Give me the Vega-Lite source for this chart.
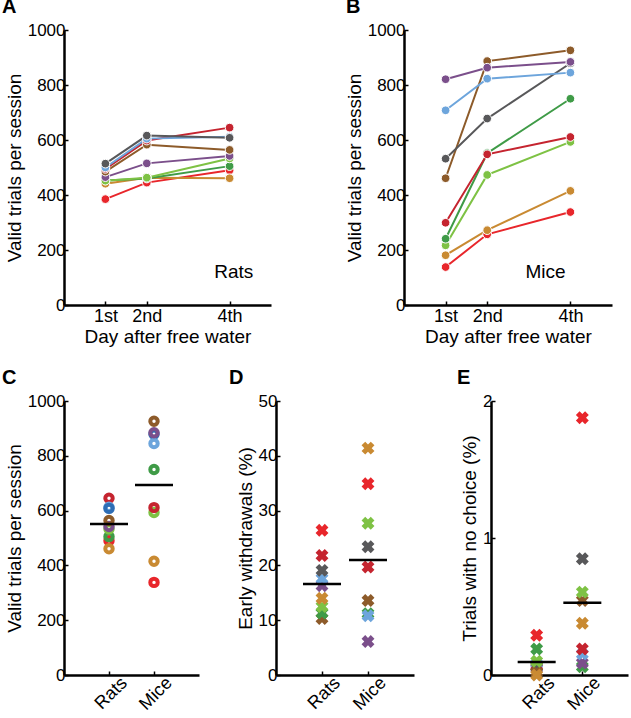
{
  "$schema": "https://vega.github.io/schema/vega-lite/v6.json",
  "background": "white",
  "padding": {"left": 2, "top": -3, "right": 2, "bottom": 2},
  "config": {
    "font": "Liberation Sans",
    "view": {"stroke": null},
    "axis": {"domainColor": "black", "domainWidth": 2.5, "tickColor": "black", "tickWidth": 1.5, "tickSize": -4, "labelColor": "black", "labelFontSize": 17, "titleColor": "black", "titleFontSize": 19, "titleFontWeight": "normal", "grid": false, "labelFont": "Liberation Sans", "titleFont": "Liberation Sans"},
    "axisQuantitative": {"format": "d"},
    "axisY": {"labelPadding": 3, "titlePadding": 3},
    "axisX": {"labelPadding": 6, "titlePadding": 2, "labelFontSize": 18},
    "title": {"fontSize": 20, "fontWeight": "bold", "anchor": "start", "frame": "group", "color": "black", "font": "Liberation Sans", "offset": 0}
  },
  "datasets": {
    "trials": [
      {"species": "Rats", "animal": "a1", "day": 1, "value": 385},
      {"species": "Rats", "animal": "a1", "day": 2, "value": 445},
      {"species": "Rats", "animal": "a1", "day": 4, "value": 490},
      {"species": "Rats", "animal": "a9", "day": 1, "value": 441},
      {"species": "Rats", "animal": "a9", "day": 2, "value": 463},
      {"species": "Rats", "animal": "a9", "day": 4, "value": 461},
      {"species": "Rats", "animal": "a7", "day": 1, "value": 453},
      {"species": "Rats", "animal": "a7", "day": 2, "value": 460},
      {"species": "Rats", "animal": "a7", "day": 4, "value": 505},
      {"species": "Rats", "animal": "a8", "day": 1, "value": 452},
      {"species": "Rats", "animal": "a8", "day": 2, "value": 463},
      {"species": "Rats", "animal": "a8", "day": 4, "value": 533},
      {"species": "Rats", "animal": "a6", "day": 1, "value": 465},
      {"species": "Rats", "animal": "a6", "day": 2, "value": 515},
      {"species": "Rats", "animal": "a6", "day": 4, "value": 542},
      {"species": "Rats", "animal": "a5", "day": 1, "value": 485},
      {"species": "Rats", "animal": "a5", "day": 2, "value": 583},
      {"species": "Rats", "animal": "a5", "day": 4, "value": 564},
      {"species": "Rats", "animal": "a2", "day": 1, "value": 495},
      {"species": "Rats", "animal": "a2", "day": 2, "value": 598},
      {"species": "Rats", "animal": "a2", "day": 4, "value": 645},
      {"species": "Rats", "animal": "a4", "day": 1, "value": 500},
      {"species": "Rats", "animal": "a4", "day": 2, "value": 605},
      {"species": "Rats", "animal": "a4", "day": 4, "value": 612},
      {"species": "Rats", "animal": "a3", "day": 1, "value": 514},
      {"species": "Rats", "animal": "a3", "day": 2, "value": 616},
      {"species": "Rats", "animal": "a3", "day": 4, "value": 608},
      {"species": "Mice", "animal": "a1", "day": 1, "value": 138},
      {"species": "Mice", "animal": "a1", "day": 2, "value": 257},
      {"species": "Mice", "animal": "a1", "day": 4, "value": 338},
      {"species": "Mice", "animal": "a9", "day": 1, "value": 181},
      {"species": "Mice", "animal": "a9", "day": 2, "value": 272},
      {"species": "Mice", "animal": "a9", "day": 4, "value": 415},
      {"species": "Mice", "animal": "a8", "day": 1, "value": 217},
      {"species": "Mice", "animal": "a8", "day": 2, "value": 473},
      {"species": "Mice", "animal": "a8", "day": 4, "value": 593},
      {"species": "Mice", "animal": "a7", "day": 1, "value": 241},
      {"species": "Mice", "animal": "a7", "day": 2, "value": 552},
      {"species": "Mice", "animal": "a7", "day": 4, "value": 750},
      {"species": "Mice", "animal": "a2", "day": 1, "value": 299},
      {"species": "Mice", "animal": "a2", "day": 2, "value": 548},
      {"species": "Mice", "animal": "a2", "day": 4, "value": 611},
      {"species": "Mice", "animal": "a5", "day": 1, "value": 461},
      {"species": "Mice", "animal": "a5", "day": 2, "value": 887},
      {"species": "Mice", "animal": "a5", "day": 4, "value": 926},
      {"species": "Mice", "animal": "a3", "day": 1, "value": 532},
      {"species": "Mice", "animal": "a3", "day": 2, "value": 678},
      {"species": "Mice", "animal": "a3", "day": 4, "value": 879},
      {"species": "Mice", "animal": "a4", "day": 1, "value": 708},
      {"species": "Mice", "animal": "a4", "day": 2, "value": 823},
      {"species": "Mice", "animal": "a4", "day": 4, "value": 845},
      {"species": "Mice", "animal": "a6", "day": 1, "value": 821},
      {"species": "Mice", "animal": "a6", "day": 2, "value": 863},
      {"species": "Mice", "animal": "a6", "day": 4, "value": 884}
    ],
    "withdrawals": [
      {"species": "Rats", "animal": "a5", "value": 10.3},
      {"species": "Rats", "animal": "a7", "value": 11.3},
      {"species": "Rats", "animal": "a8", "value": 12.5},
      {"species": "Rats", "animal": "a9", "value": 14.0},
      {"species": "Rats", "animal": "a6", "value": 16.3},
      {"species": "Rats", "animal": "a4", "value": 17.6},
      {"species": "Rats", "animal": "a3", "value": 19.1},
      {"species": "Rats", "animal": "a2", "value": 21.8},
      {"species": "Rats", "animal": "a1", "value": 26.4},
      {"species": "Mice", "animal": "a7", "value": 11.2},
      {"species": "Mice", "animal": "a4", "value": 10.8},
      {"species": "Mice", "animal": "a6", "value": 6.1},
      {"species": "Mice", "animal": "a5", "value": 13.6},
      {"species": "Mice", "animal": "a2", "value": 19.7},
      {"species": "Mice", "animal": "a3", "value": 23.4},
      {"species": "Mice", "animal": "a8", "value": 27.7},
      {"species": "Mice", "animal": "a1", "value": 34.9},
      {"species": "Mice", "animal": "a9", "value": 41.4}
    ],
    "nochoice": [
      {"species": "Rats", "animal": "a6", "value": 0.05},
      {"species": "Rats", "animal": "a4", "value": 0.08},
      {"species": "Rats", "animal": "a2", "value": 0.07},
      {"species": "Rats", "animal": "a3", "value": 0.06},
      {"species": "Rats", "animal": "a5", "value": 0.02},
      {"species": "Rats", "animal": "a9", "value": 0.0},
      {"species": "Rats", "animal": "a8", "value": 0.1},
      {"species": "Rats", "animal": "a7", "value": 0.19},
      {"species": "Rats", "animal": "a1", "value": 0.29},
      {"species": "Mice", "animal": "a7", "value": 0.06},
      {"species": "Mice", "animal": "a6", "value": 0.088},
      {"species": "Mice", "animal": "a4", "value": 0.154},
      {"species": "Mice", "animal": "a2", "value": 0.19},
      {"species": "Mice", "animal": "a9", "value": 0.378},
      {"species": "Mice", "animal": "a5", "value": 0.544},
      {"species": "Mice", "animal": "a8", "value": 0.605},
      {"species": "Mice", "animal": "a3", "value": 0.849},
      {"species": "Mice", "animal": "a1", "value": 1.878}
    ]
  },
  "resolve": {"scale": {"color": "independent"}},
  "spacing": 22,
  "vconcat": [
    {
      "hconcat": [
        {
          "width": 207, "height": 275,
          "title": {"text": "A", "dx": -62},
          "layer": [
            {
              "data": {"name": "trials"},
              "transform": [{"filter": "datum.species === 'Rats'"}],
              "mark": {"type": "line", "strokeWidth": 2},
              "encoding": {
                "x": {"field": "day", "type": "quantitative", "scale": {"domain": [0, 5], "nice": false, "zero": false}, "axis": {"values": [1, 2, 4], "labelExpr": "datum.value == 1 ? '1st' : datum.value == 2 ? '2nd' : '4th'", "title": "Day after free water"}},
                "y": {"field": "value", "type": "quantitative", "scale": {"domain": [0, 1000], "nice": false}, "axis": {"values": [0, 200, 400, 600, 800, 1000], "title": "Valid trials per session"}},
                "color": {"field": "animal", "type": "nominal", "legend": null, "scale": {"domain": ["a1","a2","a3","a4","a5","a6","a7","a8","a9"], "range": ["#e8262b","#c5242f","#58585a","#6da5dc","#8d5b2a","#7b4f8b","#3f9b47","#7ec244","#c98a32"]}}
              }
            },
            {
              "data": {"name": "trials"},
              "transform": [{"filter": "datum.species === 'Rats'"}],
              "mark": {"type": "point", "filled": true, "size": 75, "stroke": "white", "strokeWidth": 1, "opacity": 1},
              "encoding": {
                "x": {"field": "day", "type": "quantitative"},
                "y": {"field": "value", "type": "quantitative"},
                "color": {"field": "animal", "type": "nominal", "legend": null}
              }
            },
            {
              "data": {"values": [{}]},
              "mark": {"type": "text", "fontSize": 19, "align": "center", "baseline": "middle", "color": "black"},
              "encoding": {
                "x": {"datum": 4.1, "type": "quantitative"},
                "y": {"datum": 120, "type": "quantitative"},
                "text": {"value": "Rats"}
              }
            }
          ]
        },
        {
          "width": 208, "height": 275,
          "title": {"text": "B", "dx": -58},
          "layer": [
            {
              "data": {"name": "trials"},
              "transform": [{"filter": "datum.species === 'Mice'"}],
              "mark": {"type": "line", "strokeWidth": 2},
              "encoding": {
                "x": {"field": "day", "type": "quantitative", "scale": {"domain": [0, 5], "nice": false, "zero": false}, "axis": {"values": [1, 2, 4], "labelExpr": "datum.value == 1 ? '1st' : datum.value == 2 ? '2nd' : '4th'", "title": "Day after free water"}},
                "y": {"field": "value", "type": "quantitative", "scale": {"domain": [0, 1000], "nice": false}, "axis": {"values": [0, 200, 400, 600, 800, 1000], "title": "Valid trials per session"}},
                "color": {"field": "animal", "type": "nominal", "legend": null, "scale": {"domain": ["a1","a2","a3","a4","a5","a6","a7","a8","a9"], "range": ["#e8262b","#c5242f","#58585a","#6da5dc","#8d5b2a","#7b4f8b","#3f9b47","#7ec244","#c98a32"]}}
              }
            },
            {
              "data": {"name": "trials"},
              "transform": [{"filter": "datum.species === 'Mice'"}],
              "mark": {"type": "point", "filled": true, "size": 75, "stroke": "white", "strokeWidth": 1, "opacity": 1},
              "encoding": {
                "x": {"field": "day", "type": "quantitative"},
                "y": {"field": "value", "type": "quantitative"},
                "color": {"field": "animal", "type": "nominal", "legend": null}
              }
            },
            {
              "data": {"values": [{}]},
              "mark": {"type": "text", "fontSize": 19, "align": "center", "baseline": "middle", "color": "black"},
              "encoding": {
                "x": {"datum": 3.4, "type": "quantitative"},
                "y": {"datum": 120, "type": "quantitative"},
                "text": {"value": "Mice"}
              }
            }
          ]
        }
      ],
      "spacing": 133,
      "bounds": "flush",
      "resolve": {"scale": {"color": "independent"}}
    },
    {
      "hconcat": [
        {
          "width": 135, "height": 274,
          "title": {"text": "C", "dx": -62},
          "data": {"name": "trials"},
          "transform": [{"filter": "datum.day === 4"}],
          "encoding": {
            "x": {"field": "species", "type": "nominal", "scale": {"type": "point", "domain": ["Rats", "Mice"], "padding": 1}, "axis": {"title": null, "labelAngle": -45, "labelFontSize": 18, "labelBaseline": "middle", "labelAlign": "right", "labelPadding": 9, "labelOffset": 15, "encode": {"labels": {"update": {"angle": {"value": -45}}}}}},
            "y": {"field": "value", "type": "quantitative", "scale": {"domain": [0, 1000], "nice": false}, "axis": {"values": [0, 200, 400, 600, 800, 1000], "title": "Valid trials per session"}}
          },
          "layer": [
            {
              "mark": {"type": "point", "filled": false, "size": 55, "strokeWidth": 4, "opacity": 1},
              "encoding": {
                "color": {"field": "animal", "type": "nominal", "legend": null, "scale": {"domain": ["a1","a2","a3","a4","a5","a6","a7","a8","a9"], "range": ["#e8262b","#c5242f","#2d6db5","#6da5dc","#8d5b2a","#7b4f8b","#3f9b47","#7ec244","#c98a32"]}}
              }
            },
            {
              "mark": {"type": "tick", "size": 38, "thickness": 2.5, "color": "black"},
              "encoding": {"y": {"aggregate": "mean", "field": "value", "type": "quantitative"}}
            }
          ]
        },
        {
          "width": 138, "height": 274,
          "title": {"text": "D", "dx": -47},
          "data": {"name": "withdrawals"},
          "encoding": {
            "x": {"field": "species", "type": "nominal", "scale": {"type": "point", "domain": ["Rats", "Mice"], "padding": 1}, "axis": {"title": null, "labelAngle": -45, "labelFontSize": 18, "labelBaseline": "middle", "labelAlign": "right", "labelPadding": 9, "labelOffset": 15, "encode": {"labels": {"update": {"angle": {"value": -45}}}}}},
            "y": {"field": "value", "type": "quantitative", "scale": {"domain": [0, 50], "nice": false}, "axis": {"values": [0, 10, 20, 30, 40, 50], "title": "Early withdrawals (%)"}}
          },
          "layer": [
            {
              "mark": {"type": "point", "shape": "cross", "angle": 45, "filled": true, "size": 170, "opacity": 1},
              "encoding": {
                "color": {"field": "animal", "type": "nominal", "legend": null, "scale": {"domain": ["a1","a2","a3","a4","a5","a6","a7","a8","a9"], "range": ["#e8262b","#c5242f","#58585a","#6da5dc","#8d5b2a","#7b4f8b","#3f9b47","#7ec244","#c98a32"]}}
              }
            },
            {
              "mark": {"type": "tick", "size": 38, "thickness": 2.5, "color": "black"},
              "encoding": {"y": {"aggregate": "mean", "field": "value", "type": "quantitative"}}
            }
          ]
        },
        {
          "width": 137, "height": 274,
          "title": {"text": "E", "dx": -34},
          "data": {"name": "nochoice"},
          "encoding": {
            "x": {"field": "species", "type": "nominal", "scale": {"type": "point", "domain": ["Rats", "Mice"], "padding": 1}, "axis": {"title": null, "labelAngle": -45, "labelFontSize": 18, "labelBaseline": "middle", "labelAlign": "right", "labelPadding": 9, "labelOffset": 15, "encode": {"labels": {"update": {"angle": {"value": -45}}}}}},
            "y": {"field": "value", "type": "quantitative", "scale": {"domain": [0, 2], "nice": false}, "axis": {"values": [0, 1, 2], "title": "Trials with no choice (%)"}}
          },
          "layer": [
            {
              "mark": {"type": "point", "shape": "cross", "angle": 45, "filled": true, "size": 170, "opacity": 1},
              "encoding": {
                "color": {"field": "animal", "type": "nominal", "legend": null, "scale": {"domain": ["a1","a2","a3","a4","a5","a6","a7","a8","a9"], "range": ["#e8262b","#c5242f","#58585a","#6da5dc","#8d5b2a","#7b4f8b","#3f9b47","#7ec244","#c98a32"]}}
              }
            },
            {
              "mark": {"type": "tick", "size": 38, "thickness": 2.5, "color": "black"},
              "encoding": {"y": {"aggregate": "mean", "field": "value", "type": "quantitative"}}
            }
          ]
        }
      ],
      "spacing": 77,
      "bounds": "flush",
      "resolve": {"scale": {"color": "independent"}}
    }
  ]
}
